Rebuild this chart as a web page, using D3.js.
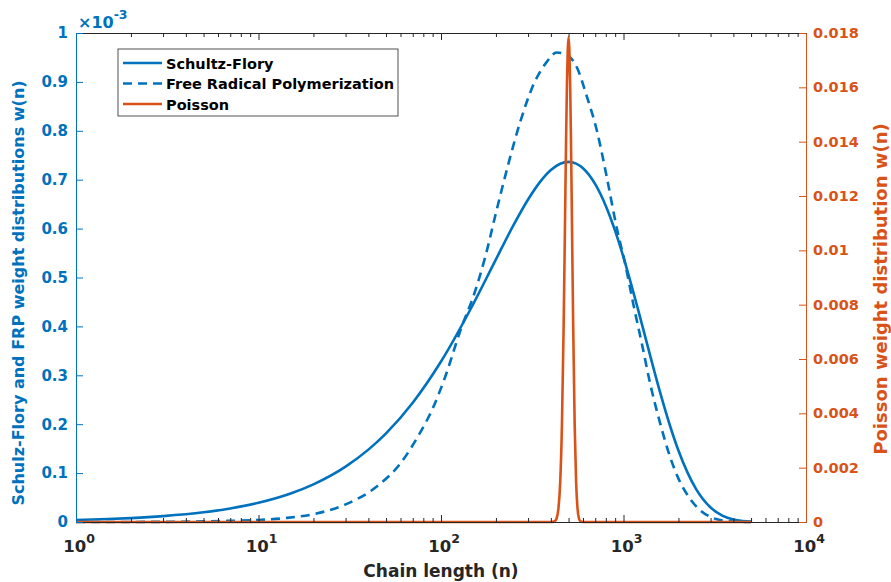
<!DOCTYPE html>
<html>
<head>
<meta charset="utf-8">
<script src="https://cdn.jsdelivr.net/npm/d3@7"></script>
<style>
  body { margin: 0; background: #fff; }
  text { font-family: "DejaVu Sans", sans-serif; font-weight: bold; }
</style>
</head>
<body>
<svg id="chart" width="891" height="582"></svg>
<script>
// chain lengths and weight fractions
// (left-axis series are in units of 1e-3)
const sfN = [1, 1.5, 2, 3, 5, 7, 10, 15, 20, 30, 40, 50, 70, 100, 150, 200, 250, 300, 350, 400, 450, 500, 550, 600, 700, 800, 900, 1000, 1200, 1400, 1600, 1800, 2000, 2500, 3000, 3500, 4000, 4500, 5000];
const sfW = [0.004, 0.006, 0.008, 0.012, 0.0198, 0.0277, 0.0393, 0.0583, 0.077, 0.1132, 0.148, 0.1813, 0.2439, 0.3281, 0.4453, 0.5371, 0.6075, 0.6595, 0.6961, 0.7198, 0.7327, 0.7365, 0.733, 0.7235, 0.6908, 0.6463, 0.5952, 0.5413, 0.4353, 0.3402, 0.2605, 0.1963, 0.1462, 0.0672, 0.0296, 0.0127, 0.0053, 0.0022, 0.0009];

const frpN = [1, 2, 3, 5, 7, 10, 14, 20, 30, 45, 60, 75, 90, 105, 130, 150, 175, 200, 235, 270, 320, 380, 430, 490, 555, 630, 715, 810, 920, 1020, 1130, 1260, 1400, 1590, 1800, 2040, 2310, 2630, 3100, 3700, 4300, 5000];
const frpW = [0, 0.0001, 0.0003, 0.0012, 0.0024, 0.0042, 0.008, 0.016, 0.036, 0.074, 0.12, 0.176, 0.232, 0.295, 0.4, 0.46, 0.543, 0.632, 0.735, 0.815, 0.893, 0.941, 0.96, 0.955, 0.93, 0.87, 0.8, 0.705, 0.6, 0.529, 0.447, 0.365, 0.283, 0.201, 0.133, 0.082, 0.048, 0.024, 0.008, 0.002, 0.0003, 0];

const poN = [1, 400, 420, 430, 440, 450, 460, 470, 475, 480, 485, 490, 495, 500, 505, 510, 515, 520, 525, 530, 540, 550, 560, 570, 580, 600, 5000];
const poW = [0, 0, 0.00003, 0.00013, 0.00049, 0.00146, 0.0036, 0.00725, 0.00955, 0.01196, 0.01425, 0.01614, 0.0174, 0.01784, 0.0174, 0.01614, 0.01425, 0.01196, 0.00955, 0.00725, 0.0036, 0.00146, 0.00049, 0.00013, 0.00003, 0, 0];

const leftTicks = [0, 0.1, 0.2, 0.3, 0.4, 0.5, 0.6, 0.7, 0.8, 0.9, 1];
const rightTicks = [0, 0.002, 0.004, 0.006, 0.008, 0.01, 0.012, 0.014, 0.016, 0.018];
const xDecades = [0, 1, 2, 3, 4];

const legendItems = ["Schultz-Flory", "Free Radical Polymerization", "Poisson"];

const blue = "#0072BD";
const orange = "#D95319";

const margin = { left: 76, right: 85, top: 33, bottom: 60 };
const width = 891, height = 582;
const svg = d3.select("#chart");

const x = d3.scaleLog().domain([1, 1e4]).range([margin.left, width - margin.right]);
const yL = d3.scaleLinear().domain([0, 1]).range([height - margin.bottom, margin.top]);
const yR = d3.scaleLinear().domain([0, 0.018]).range([height - margin.bottom, margin.top]);

const x0 = margin.left, x1 = width - margin.right;
const y0 = height - margin.bottom, y1 = margin.top;

svg.append("clipPath").attr("id", "plot-clip")
  .append("rect").attr("x", x0).attr("y", y1 - 3).attr("width", x1 - x0).attr("height", y0 - y1 + 6);

// curves
const plot = svg.append("g").attr("clip-path", "url(#plot-clip)");

function drawCurve(ns, ws, yScale, color, dash) {
  const pts = ns.map((n, i) => [n, ws[i]]);
  plot.append("path")
    .datum(pts)
    .attr("fill", "none")
    .attr("stroke", color)
    .attr("stroke-width", 2.6)
    .attr("stroke-dasharray", dash)
    .attr("d", d3.line().x(d => x(d[0])).y(d => yScale(d[1])).curve(d3.curveMonotoneX));
}

drawCurve(sfN, sfW, yL, blue, null);
drawCurve(frpN, frpW, yL, blue, "9,6");
drawCurve(poN, poW, yR, orange, null);

// x axis, bottom and top, ticks pointing inward
const majorX = xDecades.map(e => Math.pow(10, e));
const minorX = [];
xDecades.slice(0, -1).forEach(e => {
  for (let k = 2; k <= 9; k++) minorX.push(k * Math.pow(10, e));
});

const xAxisBottom = d3.axisBottom(x).tickValues(majorX).tickSizeInner(-7).tickSizeOuter(0).tickFormat("");
const xAxisTop = d3.axisTop(x).tickValues(majorX).tickSizeInner(-7).tickSizeOuter(0).tickFormat("");
const xMinorBottom = d3.axisBottom(x).tickValues(minorX).tickSizeInner(-4).tickSizeOuter(0).tickFormat("");
const xMinorTop = d3.axisTop(x).tickValues(minorX).tickSizeInner(-4).tickSizeOuter(0).tickFormat("");

[[xAxisBottom, y0], [xMinorBottom, y0], [xAxisTop, y1], [xMinorTop, y1]].forEach(([ax, yy]) => {
  svg.append("g").attr("transform", `translate(0,${yy})`).call(ax)
    .call(g => g.selectAll("line, path").attr("stroke", "#262626").attr("stroke-width", 1));
});

// decade labels 10^e
const xLab = svg.append("g");
xDecades.forEach(e => {
  const t = xLab.append("text")
    .attr("x", x(Math.pow(10, e)) + 3)
    .attr("y", y0 + 30)
    .attr("text-anchor", "middle")
    .attr("font-size", 16.5)
    .attr("fill", "#262626");
  t.append("tspan").text("10");
  t.append("tspan").attr("dy", -9).attr("font-size", 12.5).text(e);
});

// left axis
const yAxisLeft = d3.axisLeft(yL).tickValues(leftTicks).tickSizeInner(-7).tickSizeOuter(0).tickPadding(8)
  .tickFormat(d => d3.format("~g")(d));
svg.append("g").attr("transform", `translate(${x0},0)`).call(yAxisLeft)
  .call(g => g.selectAll("line, path").attr("stroke", blue).attr("stroke-width", 1))
  .call(g => g.selectAll("text").attr("fill", blue).attr("font-size", 15)
    .style("font-family", "DejaVu Sans, sans-serif").style("font-weight", "bold"));

// right axis
const yAxisRight = d3.axisRight(yR).tickValues(rightTicks).tickSizeInner(-7).tickSizeOuter(0).tickPadding(7)
  .tickFormat(d => d3.format("~g")(d));
svg.append("g").attr("transform", `translate(${x1},0)`).call(yAxisRight)
  .call(g => g.selectAll("line, path").attr("stroke", orange).attr("stroke-width", 1))
  .call(g => g.selectAll("text").attr("fill", orange).attr("font-size", 14.5)
    .style("font-family", "DejaVu Sans, sans-serif").style("font-weight", "bold"));

// exponent marker
const ex = svg.append("text").attr("x", x0 + 2).attr("y", 28).attr("font-size", 16).attr("fill", blue);
ex.append("tspan").text("\u00d710");
ex.append("tspan").attr("dy", -9).attr("font-size", 12.5).text("-3");

// axis titles
svg.append("text")
  .attr("x", (x0 + x1) / 2).attr("y", 577)
  .attr("text-anchor", "middle").attr("font-size", 17).attr("fill", "#262626")
  .text("Chain length (n)");

svg.append("text")
  .attr("transform", `translate(24,293) rotate(-90)`)
  .attr("text-anchor", "middle").attr("font-size", 16).attr("fill", blue)
  .text("Schulz-Flory and FRP weight distributions w(n)");

svg.append("text")
  .attr("transform", `translate(887,289) rotate(-90)`)
  .attr("text-anchor", "middle").attr("font-size", 18).attr("fill", orange)
  .text("Poisson weight distribution w(n)");

// legend
const lg = svg.append("g");
lg.append("rect").attr("x", 118).attr("y", 49).attr("width", 280).attr("height", 67)
  .attr("fill", "#fff").attr("stroke", "#262626").attr("stroke-width", 0.8);
const lgColors = [blue, blue, orange];
const lgDash = [null, "9,6", null];
legendItems.forEach((name, i) => {
  const yy = 63 + i * 20.5;
  lg.append("line").attr("x1", 123).attr("x2", 162).attr("y1", yy).attr("y2", yy)
    .attr("stroke", lgColors[i]).attr("stroke-width", 2.6).attr("stroke-dasharray", lgDash[i]);
  lg.append("text").attr("x", 166).attr("y", yy + 5.5).attr("font-size", 14.5).attr("fill", "#000").text(name);
});
</script>
</body>
</html>
